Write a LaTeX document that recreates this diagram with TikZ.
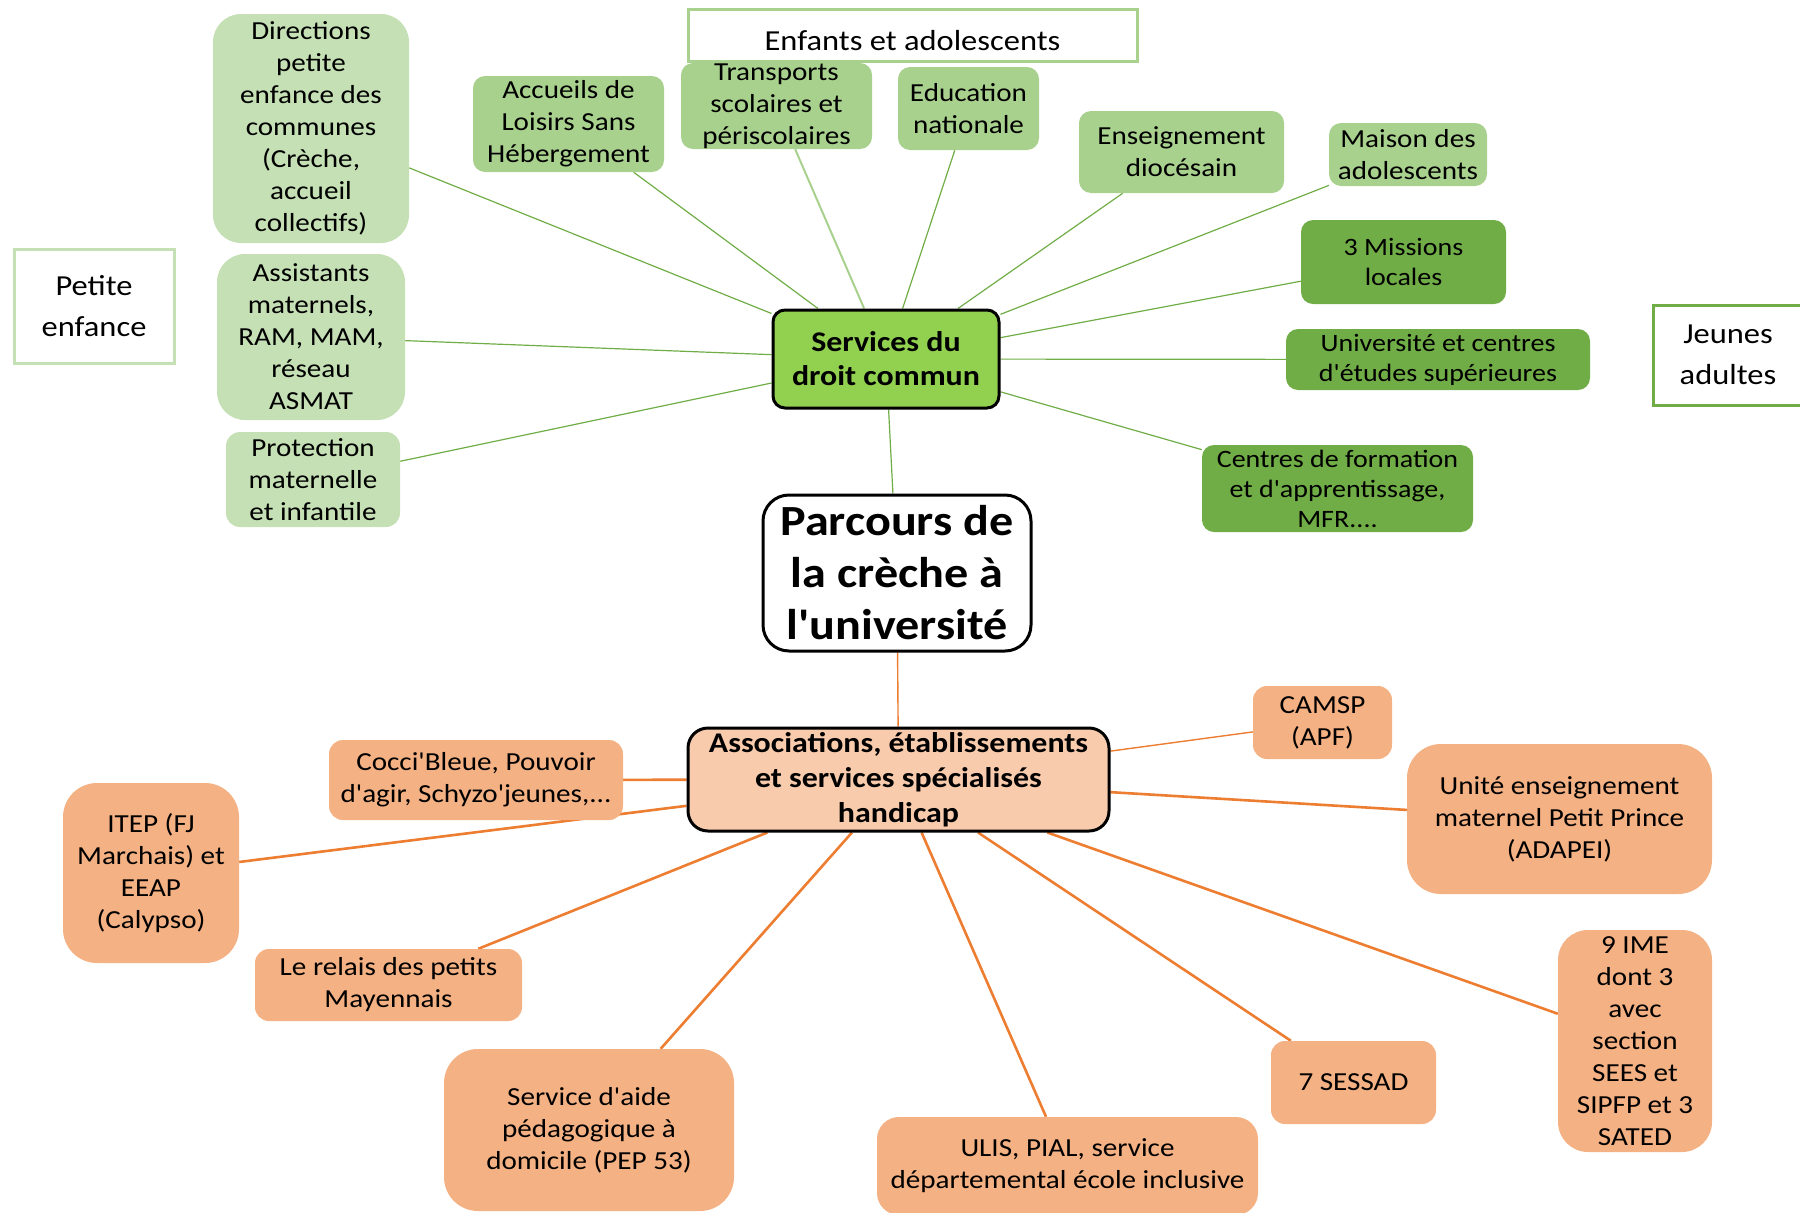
\documentclass[tikz,border=0pt]{standalone}
\usepackage{fontspec}
\setmainfont{Carlito}
\newfontfamily\cfont[FakeStretch=1.12]{Carlito}
\pgfdeclarelayer{bg}
\pgfsetlayers{bg,main}
\newcommand\fsz[2]{\cfont\fontsize{#1}{#2}\selectfont}
\definecolor{lgreen}{HTML}{C5E0B4}
\definecolor{mgreen}{HTML}{A9D18E}
\definecolor{dgreen}{HTML}{70AD47}
\definecolor{bgreen}{HTML}{92D050}
\definecolor{lorange}{HTML}{F8CBAD}
\definecolor{morange}{HTML}{F4B183}
\definecolor{dorange}{HTML}{ED7D31}
\tikzset{
  base/.style={rectangle, inner sep=0pt, align=center, font=\fsz{26}{32}},
  lgbox/.style={base, fill=lgreen, rounded corners=28pt},
  mgbox/.style={base, fill=mgreen, rounded corners=12pt},
  dgbox/.style={base, fill=dgreen, rounded corners=12pt, font=\fsz{25}{30}},
  obox/.style={base, fill=morange, rounded corners=14pt},
  obigbox/.style={base, fill=morange, rounded corners=34pt},
  tagbox/.style={base, fill=white, line width=3pt, font=\fsz{29}{41}},
  gline/.style={draw=dgreen, line width=1.2pt},
  oline/.style={draw=dorange, line width=2.6pt},
  othin/.style={draw=dorange, line width=1.4pt},
}
\begin{document}
\begin{tikzpicture}[x=1pt,y=-1pt]
\useasboundingbox (0,0) rectangle (1800,1213);
\clip (0,0) rectangle (1800,1213);
% tag boxes
\node[tagbox, draw=lgreen, minimum width=160, minimum height=114] (pe) at (94,306) {Petite\\enfance};
\node[tagbox, draw=mgreen, minimum width=449, minimum height=52, text height=30pt, text depth=0pt] (ea) at (912.5,35) {Enfants et adolescents};
\node[tagbox, draw=dgreen, minimum width=150, minimum height=100] (ja) at (1728,355) {Jeunes\\adultes};
% centre
\node[base, fill=bgreen, draw=black, line width=3pt, rounded corners=12pt, minimum width=226, minimum height=98, font=\fsz{28.5}{34}\bfseries] (srv) at (886,359) {Services du\\droit commun};
\node[base, fill=white, draw=black, line width=3pt, rounded corners=26pt, minimum width=268, minimum height=156, font=\fsz{43}{52}\bfseries] (par) at (897,573) {Parcours de\\la crèche à\\l'université};
\node[base, fill=lorange, draw=black, line width=3pt, rounded corners=20pt, minimum width=421, minimum height=103, font=\fsz{28.5}{35}\bfseries] (ass) at (898.5,779.5) {Associations, établissements\\et services spécialisés\\handicap};
% green nodes
\node[lgbox, minimum width=196, minimum height=229] (dir) at (311,128.5) {Directions\\petite\\enfance des\\communes\\(Crèche,\\accueil\\collectifs)};
\node[lgbox, minimum width=188, minimum height=166] (asm) at (311,337) {Assistants\\maternels,\\RAM, MAM,\\réseau\\ASMAT};
\node[lgbox, rounded corners=14pt, minimum width=174, minimum height=95] (pmi) at (313,479.5) {Protection\\maternelle\\et infantile};
\node[mgbox, minimum width=191, minimum height=96] (acc) at (568.5,124) {Accueils de\\Loisirs Sans\\Hébergement};
\node[mgbox, minimum width=191, minimum height=86] (tra) at (776.5,106) {Transports\\scolaires et\\périscolaires};
\node[mgbox, minimum width=141, minimum height=83] (edu) at (968.5,108.5) {Education\\nationale};
\node[mgbox, minimum width=205, minimum height=82] (ens) at (1181.5,152) {Enseignement\\diocésain};
\node[mgbox, minimum width=158, minimum height=63] (mai) at (1408,154.5) {Maison des\\adolescents};
\node[dgbox, minimum width=205, minimum height=84] (mis) at (1403.5,262) {3 Missions\\locales};
\node[dgbox, minimum width=304, minimum height=61] (uni) at (1438,359.5) {Université et centres\\d'études supérieures};
\node[dgbox, minimum width=271, minimum height=87] (cen) at (1337.5,488.5) {Centres de formation\\et d'apprentissage,\\MFR....};
% orange nodes
\node[obox, minimum width=294, minimum height=80] (coc) at (476,780) {Cocci'Bleue, Pouvoir\\d'agir, Schyzo'jeunes,...};
\node[obigbox, minimum width=176, minimum height=180] (itep) at (151,873) {ITEP (FJ\\Marchais) et\\EEAP\\(Calypso)};
\node[obox, minimum width=267, minimum height=72] (rel) at (388.5,985) {Le relais des petits\\Mayennais};
\node[obigbox, minimum width=290, minimum height=162] (sap) at (589,1130) {Service d'aide\\pédagogique à\\domicile (PEP 53)};
\node[obox, rounded corners=22pt, minimum width=381, minimum height=98] (ulis) at (1067.5,1166) {ULIS, PIAL, service\\départemental école inclusive};
\node[obox, minimum width=165, minimum height=83] (ses) at (1353.5,1082.5) {7 SESSAD};
\node[obigbox, rounded corners=30pt, minimum width=154, minimum height=222] (ime) at (1635,1041) {9 IME\\dont 3\\avec\\section\\SEES et\\SIPFP et 3\\SATED};
\node[obigbox, minimum width=305, minimum height=150] (ute) at (1559.5,819) {Unité enseignement\\maternel Petit Prince\\(ADAPEI)};
\node[obox, minimum width=139, minimum height=73] (cam) at (1322.5,722.5) {CAMSP\\(APF)};
% connectors
\begin{pgfonlayer}{bg}
\draw[gline] (dir) -- (srv);
\draw[gline] (asm) -- (srv);
\draw[gline] (pmi) -- (srv);
\draw[gline] (acc) -- (srv);
\draw[gline, draw=mgreen, line width=2pt] (tra) -- (srv);
\draw[gline] (edu) -- (srv);
\draw[gline] (ens) -- (srv);
\draw[gline] (mai) -- (srv);
\draw[gline] (mis) -- (srv);
\draw[gline] (uni) -- (srv);
\draw[gline] (cen) -- (srv);
\draw[gline] (srv) -- (par);
\draw[othin] (par) -- (ass);
\draw[oline] (coc) -- (ass);
\draw[oline] (itep) -- (ass);
\draw[oline] (rel) -- (ass);
\draw[oline] (sap) -- (ass);
\draw[oline] (ulis) -- (ass);
\draw[oline] (ses) -- (ass);
\draw[oline] (ime) -- (ass);
\draw[oline] (ute) -- (ass);
\draw[othin] (cam) -- (ass);
\end{pgfonlayer}
\end{tikzpicture}
\end{document}
